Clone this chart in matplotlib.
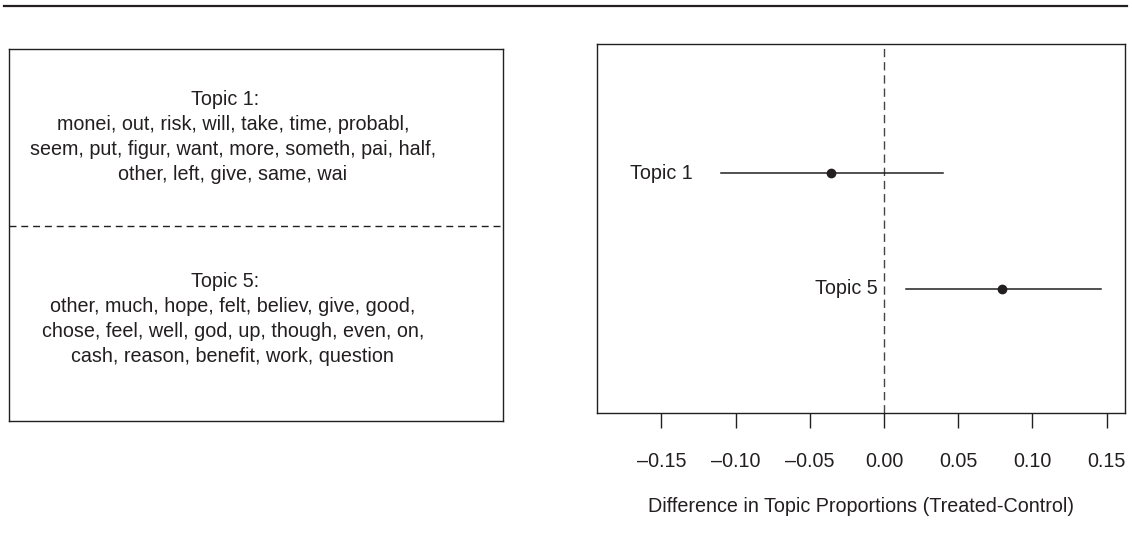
import matplotlib
matplotlib.use("Agg")
import matplotlib.pyplot as plt
from matplotlib.lines import Line2D

plt.rcParams["font.family"] = ["Liberation Sans", "DejaVu Sans"]

# data
topics = ["Topic 1", "Topic 5"]
ypos = [2, 1]
estimates = [-0.0357, 0.0795]
ci_low = [-0.110, 0.0148]
ci_high = [0.0398, 0.146]
xticks = [-0.15, -0.10, -0.05, 0.00, 0.05, 0.10, 0.15]

headers = ["Topic 1:", "Topic 5:"]
words = [
    ["monei, out, risk, will, take, time, probabl,",
     "seem, put, figur, want, more, someth, pai, half,",
     "other, left, give, same, wai"],
    ["other, much, hope, felt, believ, give, good,",
     "chose, feel, well, god, up, though, even, on,",
     "cash, reason, benefit, work, question"],
]

ink = "#231f20"
fs = 14.2

fig = plt.figure(figsize=(11.32, 5.39), dpi=100)

# top rule across the figure
fig.add_artist(Line2D([4 / 1132, 1127 / 1132], [1 - 6 / 539, 1 - 6 / 539],
                      color=ink, lw=1.6, transform=fig.transFigure))

# left panel: word lists
axl = fig.add_axes([9 / 1132, 118 / 539, 494 / 1132, 372 / 539])
axl.set_xlim(0, 1)
axl.set_ylim(0, 1)
axl.set_xticks([])
axl.set_yticks([])
for s in axl.spines.values():
    s.set_color(ink)
    s.set_linewidth(1)
axl.axhline(0.524, color=ink, lw=1, dashes=(5, 3.5))

head_y = [0.863, 0.376]
step = 25 / 372
for h, ws, y0 in zip(headers, words, head_y):
    axl.text(0.437, y0, h, ha="center", va="center", fontsize=fs, color=ink)
    for i, w in enumerate(ws):
        axl.text(0.453, y0 - (i + 1) * step, w, ha="center", va="center",
                 fontsize=fs, color=ink)

# right panel: estimated effects
axr = fig.add_axes([597 / 1132, 126 / 539, 528 / 1132, 369 / 539])
axr.axvline(0, color="#444444", lw=1, dashes=(6, 3.5))
for t, y, e, lo, hi in zip(topics, ypos, estimates, ci_low, ci_high):
    axr.plot([lo, hi], [y, y], color=ink, lw=1.1)
    axr.plot(e, y, "o", color=ink, markersize=6)
    axr.annotate(t, (lo, y), xytext=(-20, 0), textcoords="offset points",
                 ha="right", va="center", fontsize=fs, color=ink)

axr.set_xlim(-0.1934, 0.1624)
axr.set_ylim(-0.078, 3.12)
axr.set_yticks([])
axr.set_xticks(xticks)
axr.set_xticklabels([f"{v:.2f}".replace("-", "\u2013") for v in xticks])
axr.tick_params(axis="x", length=10.5, width=1, pad=17.5, labelsize=fs,
                colors=ink)
for s in axr.spines.values():
    s.set_color(ink)
    s.set_linewidth(1)
axr.set_xlabel("Difference in Topic Proportions (Treated-Control)",
               fontsize=fs, color=ink, labelpad=18.5)

fig.savefig("out.png", dpi=100)
